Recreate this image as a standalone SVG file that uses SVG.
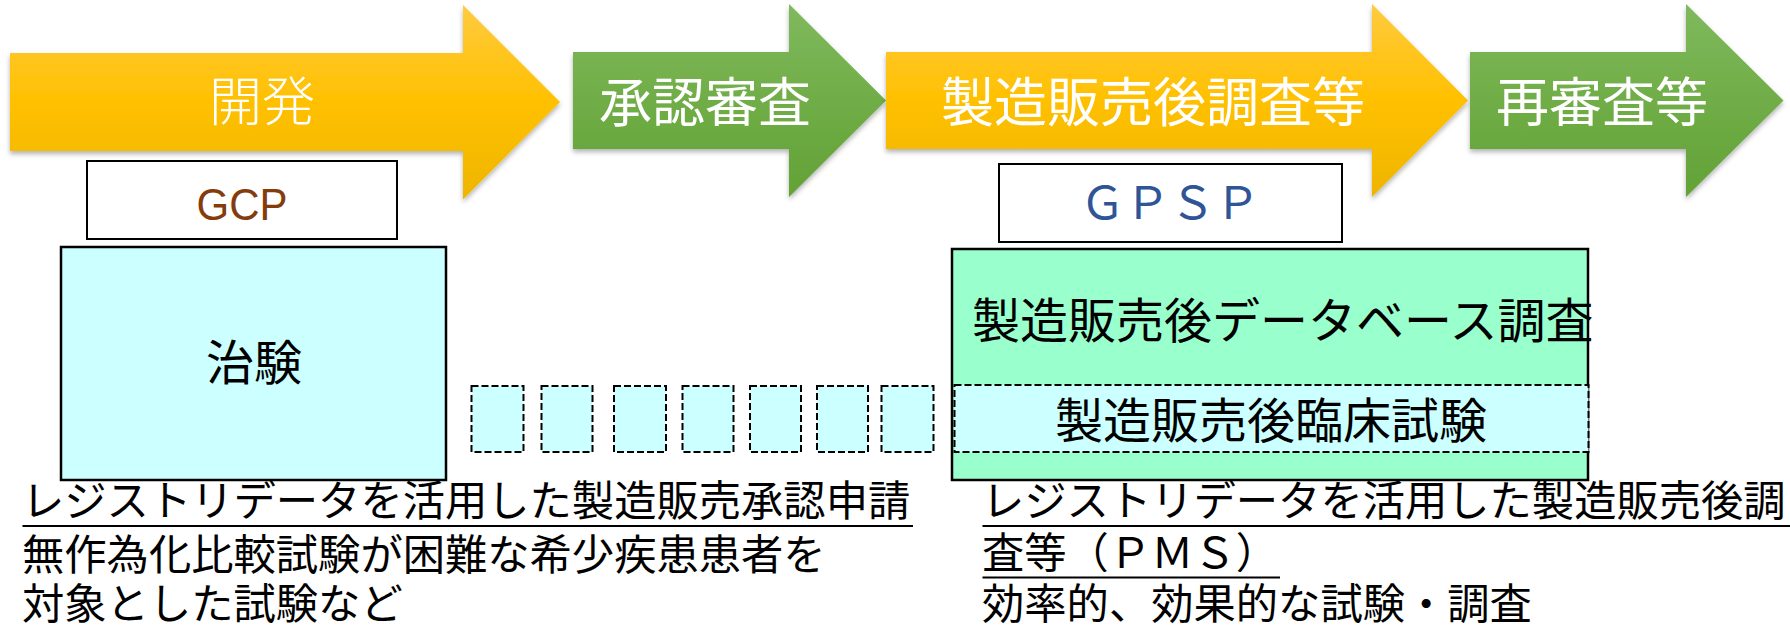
<svg xmlns="http://www.w3.org/2000/svg" width="1790" height="630" viewBox="0 0 1790 630">
<defs>
<linearGradient id="gY" x1="0" y1="0" x2="0" y2="1">
<stop offset="0" stop-color="#FFCB40"/>
<stop offset="0.5" stop-color="#FFC000"/>
<stop offset="1" stop-color="#EEB500"/>
</linearGradient>
<linearGradient id="gG" x1="0" y1="0" x2="0" y2="1">
<stop offset="0" stop-color="#80B95E"/>
<stop offset="0.5" stop-color="#70AD47"/>
<stop offset="1" stop-color="#62A236"/>
</linearGradient>
<filter id="sh" x="-5%" y="-5%" width="110%" height="115%">
<feDropShadow dx="0" dy="3" stdDeviation="2.5" flood-color="#000" flood-opacity="0.3"/>
</filter>
</defs>
<style>
.arrY{fill:url(#gY);filter:url(#sh)}
.arrG{fill:url(#gG);filter:url(#sh)}
.alab{font-family:"Noto Sans CJK JP","Noto Sans",sans-serif;font-size:53px;fill:#fff;text-anchor:middle}
.box{fill:#fff;stroke:#000;stroke-width:2}
.cyan{fill:#CCFFFF;stroke:#000;stroke-width:2.5}
.green{fill:#99FFCC;stroke:#000;stroke-width:2.5}
.dash{fill:#CCFFFF;stroke:#000;stroke-width:2;stroke-dasharray:7 3}
.t{font-family:"Noto Sans CJK JP","Noto Sans",sans-serif;fill:#000}
.ul{stroke:#000;stroke-width:2}
</style>
<g id="arrow-kaihatsu">
<polygon class="arrY" points="10,53 463,53 463,5 560,102 463,199.5 463,151 10,151"/>
<text class="alab" x="262" y="121" style="font-weight:300">開発</text>
</g>
<g id="arrow-shonin">
<polygon class="arrG" points="573,52 789,52 789,4 886,100.5 789,197 789,149 573,149"/>
<text class="alab" x="705" y="122">承認審査</text>
</g>
<g id="arrow-pms">
<polygon class="arrY" points="886,52 1372,52 1372,4 1468,100.5 1372,197 1372,149 886,149"/>
<text class="alab" x="1153" y="122">製造販売後調査等</text>
</g>
<g id="arrow-saishinsa">
<polygon class="arrG" points="1470,52 1686,52 1686,4 1783.5,100.5 1686,197 1686,149 1470,149"/>
<text class="alab" x="1602" y="122">再審査等</text>
</g>
<g id="gcp">
<rect class="box" x="87" y="161" width="310" height="78"/>
<text x="242" y="220" font-family="Liberation Sans, Arial, sans-serif" font-size="45" fill="#843C0C" text-anchor="middle" textLength="91" lengthAdjust="spacingAndGlyphs">GCP</text>
</g>
<g id="gpsp">
<rect class="box" x="999" y="164" width="343" height="78"/>
<text x="1170" y="219" font-family="Noto Sans CJK JP, sans-serif" font-size="45" fill="#2F5597" text-anchor="middle">ＧＰＳＰ</text>
</g>
<g id="chiken">
<rect class="cyan" x="61" y="247" width="385" height="233"/>
<text class="t" x="254" y="380" font-size="48" text-anchor="middle">治験</text>
</g>
<g id="dashed-series">
<rect class="dash" x="471.5" y="386" width="52" height="66"/>
<rect class="dash" x="541.5" y="386" width="51" height="66"/>
<rect class="dash" x="614" y="386" width="52" height="66"/>
<rect class="dash" x="682.5" y="386" width="51" height="66"/>
<rect class="dash" x="750" y="386" width="51" height="66"/>
<rect class="dash" x="817" y="386" width="51" height="66"/>
<rect class="dash" x="881.5" y="386" width="52" height="66"/>
</g>
<g id="pms-box">
<rect class="green" x="952" y="249" width="636" height="231"/>
<text class="t" x="972" y="338" font-size="48">製造販売後データベース調査</text>
</g>
<g id="pms-clinical">
<rect class="dash" x="954.5" y="385" width="634" height="67"/>
<text class="t" x="1271" y="438" font-size="48" text-anchor="middle">製造販売後臨床試験</text>
</g>
<g id="text-left">
<text class="t" x="22" y="516" font-size="42.3">レジストリデータを活用した製造販売承認申請</text>
<line class="ul" x1="22.5" y1="526" x2="913" y2="526"/>
<text class="t" x="22" y="570" font-size="42.3">無作為化比較試験が困難な希少疾患患者を</text>
<text class="t" x="22" y="619" font-size="42.3">対象とした試験など</text>
</g>
<g id="text-right">
<text class="t" x="982" y="516" font-size="42.3">レジストリデータを活用した製造販売後調</text>
<line class="ul" x1="982.5" y1="526" x2="1790" y2="526"/>
<text class="t" x="982" y="568" font-size="42.3">査等（ＰＭＳ）</text>
<line class="ul" x1="982.5" y1="577.5" x2="1280" y2="577.5"/>
<text class="t" x="982" y="619" font-size="42.3">効率的、効果的な試験・調査</text>
</g>
</svg>
